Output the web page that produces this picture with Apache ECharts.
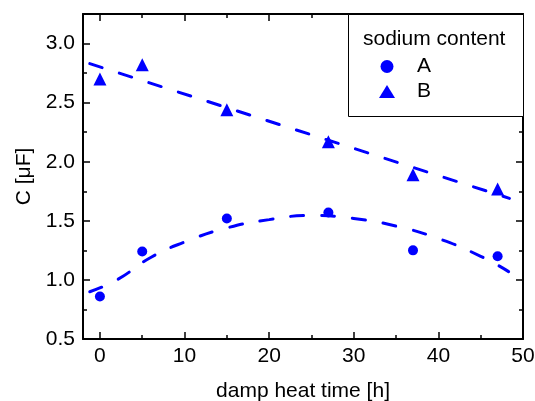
<!DOCTYPE html>
<html><head><meta charset="utf-8">
<script src="https://cdn.jsdelivr.net/npm/echarts@6/dist/echarts.min.js"></script>
<style>html,body{margin:0;padding:0;background:#fff}#c{width:535px;height:401px}</style>
</head><body><div id="c"></div>
<script>
// data
const timeA = [0, 5, 15, 27, 37, 47];
const valA = [0.86, 1.24, 1.52, 1.57, 1.25, 1.20];
const timeB = [0, 5, 15, 27, 37, 47];
const valB = [2.70, 2.82, 2.44, 2.17, 1.89, 1.77];
// fitted curves
const fitAx = [-1.2, 2, 6, 10, 15, 20, 25, 30, 35, 40, 45, 48.3];
const fitAy = [0.90, 1.00, 1.19, 1.32, 1.44, 1.51, 1.545, 1.52, 1.455, 1.35, 1.20, 1.07];
const fitBx = [-1.2, 48.4];
const fitBy = [2.83, 1.69];
// ticks
const xTicks = [0, 10, 20, 30, 40, 50];
const xMinor = [5, 15, 25, 35, 45];
const yTicks = [0.5, 1.0, 1.5, 2.0, 2.5, 3.0];
const yMinor = [0.75, 1.25, 1.75, 2.25, 2.75];
const legendTitle = 'sodium content';

const FONT = 'Liberation Sans, Arial, sans-serif';
const FS = 21;
const BLUE = '#0000ff';
const zip = (a, b) => a.map((v, i) => [v, b[i]]);

function xAx(pos, ticks, len, labels, line, extra) {
  return Object.assign({
    type: 'value', min: -2, max: 50, position: pos,
    axisLine: {show: line, onZero: false, lineStyle: {color: '#000', width: 2}},
    axisTick: {show: true, inside: true, length: len, customValues: ticks, lineStyle: {color: '#000', width: 1.5}},
    axisLabel: {show: labels, customValues: ticks, margin: 7, color: '#000', fontSize: FS, fontFamily: FONT},
    splitLine: {show: false}
  }, extra || {});
}
function yAx(pos, ticks, len, labels, line, extra) {
  return Object.assign({
    type: 'value', min: 0.5, max: 3.25, position: pos,
    axisLine: {show: line, onZero: false, lineStyle: {color: '#000', width: 2}},
    axisTick: {show: true, inside: true, length: len, customValues: ticks, lineStyle: {color: '#000', width: 1.5}},
    axisLabel: {show: labels, customValues: ticks, margin: 8, color: '#000', fontSize: FS, fontFamily: FONT,
      formatter: v => v.toFixed(1)},
    splitLine: {show: false}
  }, extra || {});
}

const chart = echarts.init(document.getElementById('c'));
const dash = {color: BLUE, width: 3, type: [13, 18], cap: 'round'};
chart.setOption({
  animation: false,
  backgroundColor: '#fff',
  grid: {left: 83, right: 12, top: 14, bottom: 62, containLabel: false, outerBoundsMode: 'none'},
  xAxis: [
    xAx('bottom', xTicks, 7, true, true, {name: 'damp heat time [h]', nameLocation: 'middle', nameGap: 42,
      nameTextStyle: {color: '#000', fontSize: FS, fontFamily: FONT}}),
    xAx('bottom', xMinor, 4, false, false),
    xAx('top', xTicks, 7, false, true),
    xAx('top', xMinor, 4, false, false)
  ],
  yAxis: [
    yAx('left', yTicks, 7, true, true, {name: 'C [\u03bcF]', nameLocation: 'middle', nameGap: 44,
      nameTextStyle: {color: '#000', fontSize: FS, fontFamily: FONT}}),
    yAx('left', yMinor, 4, false, false),
    yAx('right', yTicks, 7, false, true),
    yAx('right', yMinor, 4, false, false)
  ],
  legend: {
    z: 100,
    data: ['A', 'B'], orient: 'vertical', left: 374, top: 51, itemWidth: 16, itemHeight: 13, itemGap: 4,
    textStyle: {color: '#000', fontSize: FS, fontFamily: FONT, padding: [0, 0, 0, 17]}
  },
  graphic: [
    {type: 'rect', left: 348, top: 14, z: 50, shape: {width: 175, height: 102}, style: {fill: '#fff', stroke: '#000', lineWidth: 1}},
    {type: 'text', left: 363, top: 29, z: 51, style: {text: legendTitle, fill: '#000', font: FS + 'px ' + FONT}}
  ],
  series: [
    {name: 'fitA', type: 'line', data: zip(fitAx, fitAy), smooth: true, showSymbol: false, lineStyle: dash, z: 2},
    {name: 'fitB', type: 'line', data: zip(fitBx, fitBy), showSymbol: false, lineStyle: dash, z: 2},
    {name: 'A', type: 'scatter', data: zip(timeA, valA), symbol: 'circle', symbolSize: 10, itemStyle: {color: BLUE, opacity: 1}, z: 3},
    {name: 'B', type: 'scatter', data: zip(timeB, valB), symbol: 'triangle', symbolSize: 13, itemStyle: {color: BLUE, opacity: 1}, z: 3}
  ]
});
</script></body></html>
